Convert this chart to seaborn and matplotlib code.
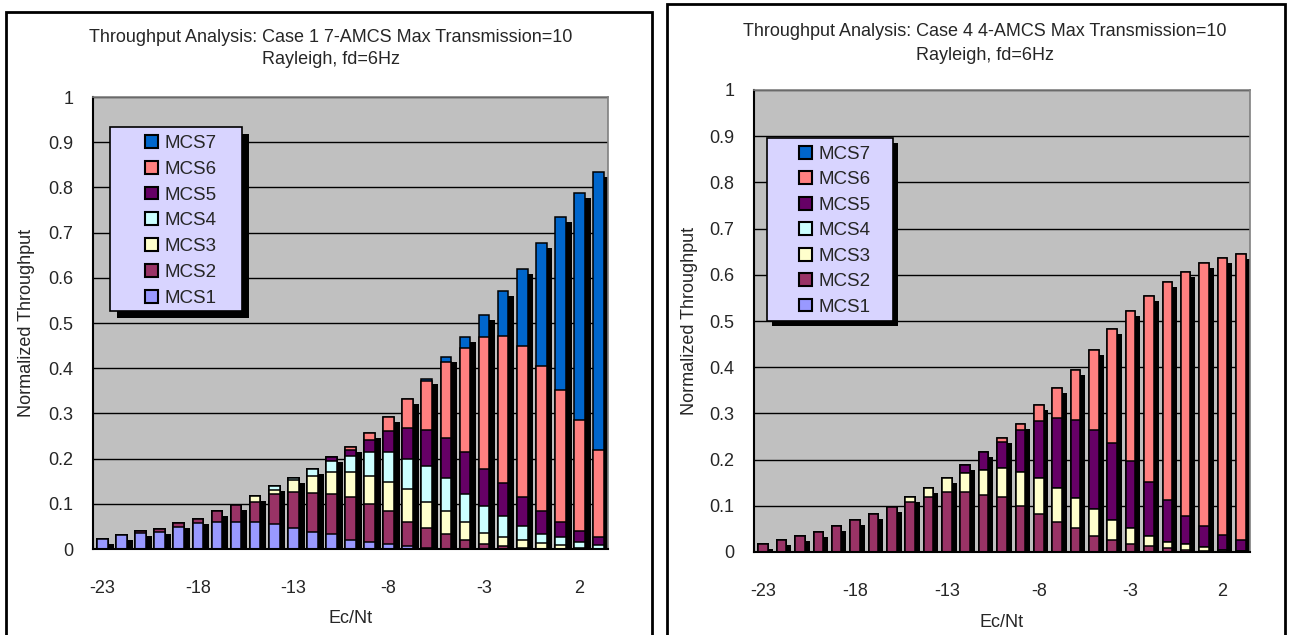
import numpy as np
import pandas as pd
import matplotlib
matplotlib.use("Agg")
import matplotlib.pyplot as plt
import seaborn as sns
from matplotlib.patches import Patch, Rectangle

# Ec/Nt axis (dB)
ec_nt = [str(v) for v in range(-23, 4)]
tick_labels = ["-23", "-18", "-13", "-8", "-3", "2"]
series = ["MCS1", "MCS2", "MCS3", "MCS4", "MCS5", "MCS6", "MCS7"]
colors = {"MCS1": "#9999FF", "MCS2": "#993366", "MCS3": "#FFFFCC", "MCS4": "#CCFFFF",
          "MCS5": "#660066", "MCS6": "#FF8080", "MCS7": "#0066CC"}

# Case 1: 7-AMCS, normalized throughput per MCS
c1_mcs1 = [0.022, 0.031, 0.035, 0.038, 0.048, 0.058, 0.060, 0.060, 0.060, 0.056, 0.046, 0.038, 0.033, 0.021,
           0.015, 0.011, 0.006, 0.002, 0.001, 0, 0, 0, 0, 0, 0, 0, 0]
c1_mcs2 = [0, 0, 0.005, 0.006, 0.009, 0.009, 0.025, 0.038, 0.045, 0.066, 0.081, 0.087, 0.089, 0.093,
           0.085, 0.072, 0.054, 0.045, 0.032, 0.021, 0.011, 0.007, 0.003, 0.001, 0, 0, 0]
c1_mcs3 = [0, 0, 0, 0, 0, 0, 0, 0, 0.012, 0.009, 0.025, 0.037, 0.048, 0.056,
           0.061, 0.066, 0.072, 0.058, 0.050, 0.039, 0.025, 0.019, 0.018, 0.012, 0.008, 0.003, 0.001]
c1_mcs4 = [0, 0, 0, 0, 0, 0, 0, 0, 0, 0.008, 0.004, 0.015, 0.025, 0.036,
           0.054, 0.066, 0.068, 0.079, 0.073, 0.062, 0.059, 0.046, 0.030, 0.020, 0.018, 0.013, 0.008]
c1_mcs5 = [0, 0, 0, 0, 0, 0, 0, 0, 0, 0, 0, 0.001, 0.009, 0.014,
           0.026, 0.045, 0.068, 0.079, 0.090, 0.093, 0.083, 0.073, 0.063, 0.050, 0.034, 0.024, 0.018]
c1_mcs6 = [0, 0, 0, 0, 0, 0, 0, 0, 0, 0, 0, 0, 0, 0.006,
           0.016, 0.031, 0.063, 0.109, 0.168, 0.230, 0.290, 0.326, 0.335, 0.322, 0.292, 0.245, 0.192]
c1_mcs7 = [0, 0, 0, 0, 0, 0, 0, 0, 0, 0, 0, 0, 0, 0,
           0, 0, 0, 0.004, 0.010, 0.023, 0.049, 0.099, 0.170, 0.272, 0.383, 0.502, 0.616]

# Case 4: 4-AMCS
c4_mcs1 = [0] * 27
c4_mcs2 = [0.018, 0.027, 0.035, 0.044, 0.057, 0.070, 0.083, 0.097, 0.108, 0.119, 0.130, 0.130, 0.124, 0.119,
           0.099, 0.083, 0.065, 0.052, 0.034, 0.025, 0.018, 0.012, 0.008, 0.005, 0.003, 0.002, 0.001]
c4_mcs3 = [0, 0, 0, 0, 0, 0, 0, 0, 0.011, 0.020, 0.031, 0.040, 0.053, 0.062,
           0.074, 0.077, 0.074, 0.065, 0.058, 0.044, 0.034, 0.022, 0.014, 0.012, 0.007, 0.003, 0.001]
c4_mcs4 = [0] * 27
c4_mcs5 = [0, 0, 0, 0, 0, 0, 0, 0, 0, 0, 0, 0.018, 0.040, 0.057,
           0.092, 0.123, 0.152, 0.168, 0.172, 0.166, 0.144, 0.118, 0.091, 0.061, 0.046, 0.031, 0.023]
c4_mcs6 = [0, 0, 0, 0, 0, 0, 0, 0, 0, 0, 0, 0, 0, 0.009,
           0.013, 0.035, 0.065, 0.110, 0.174, 0.247, 0.325, 0.403, 0.472, 0.528, 0.569, 0.601, 0.620]
c4_mcs7 = [0] * 27

W, H = 1291, 635
FS = 13
sns.set_style("white")
plt.rcParams["font.family"] = ["Liberation Sans", "DejaVu Sans"]


def make_df(cols):
    df = pd.DataFrame(dict(zip(series, cols)))
    df.insert(0, "ec", ec_nt)
    return df


def fx(px):
    return px / W


def fy(py):
    return 1 - py / H


def draw_panel(fig, rect, df, bar_w, dx, title, title_xy, legend_box, legend_anchor, lspace):
    ax = fig.add_axes(rect)
    cum = df[series].cumsum(axis=1)
    df = df.copy()
    for s in series:
        df["cum_" + s] = cum[s]

    # drop shadow behind each bar
    n0 = len(ax.patches)
    sns.barplot(data=df, x="ec", y="cum_MCS7", order=ec_nt, color="black", saturation=1,
                width=bar_w, linewidth=0, errorbar=None, ax=ax)
    for p in ax.patches[n0:]:
        p.set_x(p.get_x() + dx)
        p.set_y(-0.011)

    # stacked layers, drawn from the top down
    for s in reversed(series):
        sns.barplot(data=df, x="ec", y="cum_" + s, order=ec_nt, color=colors[s], saturation=1,
                    width=bar_w, edgecolor="black", linewidth=1.1, errorbar=None, ax=ax)

    ax.set_facecolor("#C0C0C0")
    ax.set_xlim(-0.5, 26.5)
    ax.set_ylim(0, 1)
    yt = np.round(np.arange(0, 1.01, 0.1), 1)
    ax.set_yticks(yt)
    ax.set_yticklabels(["0", "0.1", "0.2", "0.3", "0.4", "0.5", "0.6", "0.7", "0.8", "0.9", "1"], fontsize=FS)
    ax.set_xticks([ec_nt.index(t) for t in tick_labels])
    ax.set_xticklabels(tick_labels, fontsize=FS)
    ax.set_xticks([4.5, 9.5, 14.5, 19.5, 24.5], minor=True)
    ax.tick_params(axis="x", which="major", length=0, pad=22)
    ax.tick_params(axis="x", which="minor", length=5, width=1, color="black", direction="out")
    ax.tick_params(axis="y", length=4, width=1, color="black", direction="out", pad=10)
    ax.yaxis.grid(True, color="black", linewidth=1)
    ax.xaxis.grid(False)
    ax.set_axisbelow(True)
    for side in ["left", "bottom"]:
        ax.spines[side].set_color("black")
        ax.spines[side].set_linewidth(1.5)
    for side in ["top", "right"]:
        ax.spines[side].set_color("#808080")
        ax.spines[side].set_linewidth(1.2)

    ax.set_xlabel("Ec/Nt", fontsize=FS)
    ax.xaxis.set_label_coords(0.5, -0.135)
    ax.set_ylabel("Normalized Throughput", fontsize=FS)
    ax.yaxis.set_label_coords(-0.113, 0.5)

    tx, ty1, ty2 = title_xy
    fig.text(fx(tx), fy(ty1), title[0], ha="center", va="center", fontsize=FS)
    fig.text(fx(tx), fy(ty2), title[1], ha="center", va="center", fontsize=FS)

    # legend frame with black shadow
    lx0, ly0, lx1, ly1, off = legend_box
    fig.add_artist(Rectangle((fx(lx0 + off), fy(ly1 + off)), (lx1 - lx0) / W, (ly1 - ly0) / H,
                             transform=fig.transFigure, facecolor="black", edgecolor="none", zorder=4))
    fig.add_artist(Rectangle((fx(lx0), fy(ly1)), (lx1 - lx0) / W, (ly1 - ly0) / H,
                             transform=fig.transFigure, facecolor="#D8D4FF", edgecolor="black",
                             linewidth=1.2, zorder=5))
    handles = [Patch(facecolor=colors[s], edgecolor="black", linewidth=1.5) for s in reversed(series)]
    leg = fig.legend(handles=handles, labels=list(reversed(series)), loc="upper left",
                     bbox_to_anchor=(fx(legend_anchor[0]), fy(legend_anchor[1])),
                     bbox_transform=fig.transFigure, frameon=False, borderpad=0, borderaxespad=0,
                     handlelength=0.67, handleheight=0.67, handletextpad=0.35, labelspacing=lspace,
                     fontsize=13.5)
    leg.set_zorder(6)
    return ax


fig = plt.figure(figsize=(W / 100, H / 100), dpi=100)
fig.patch.set_facecolor("white")

# panel frames
fig.add_artist(Rectangle((fx(6), fy(645)), 646 / W, 633 / H, transform=fig.transFigure,
                         facecolor="none", edgecolor="black", linewidth=2, zorder=0))
fig.add_artist(Rectangle((fx(667), fy(645)), 618 / W, 641 / H, transform=fig.transFigure,
                         facecolor="none", edgecolor="black", linewidth=2, zorder=0))

df1 = make_df([c1_mcs1, c1_mcs2, c1_mcs3, c1_mcs4, c1_mcs5, c1_mcs6, c1_mcs7])
df4 = make_df([c4_mcs1, c4_mcs2, c4_mcs3, c4_mcs4, c4_mcs5, c4_mcs6, c4_mcs7])

draw_panel(fig, [fx(93), fy(549), 515 / W, 452 / H], df1, 0.56, 0.31,
           ("Throughput Analysis: Case 1 7-AMCS Max Transmission=10", "Rayleigh, fd=6Hz"),
           (331, 38, 59), (110, 127, 242, 311, 7), (145, 135), 0.47)
draw_panel(fig, [fx(754), fy(552), 496 / W, 462 / H], df4, 0.52, 0.27,
           ("Throughput Analysis: Case 4 4-AMCS Max Transmission=10", "Rayleigh, fd=6Hz"),
           (985, 32, 55), (767, 138, 893, 321, 5), (799, 146), 0.45)

fig.savefig("out.png", dpi=100)
